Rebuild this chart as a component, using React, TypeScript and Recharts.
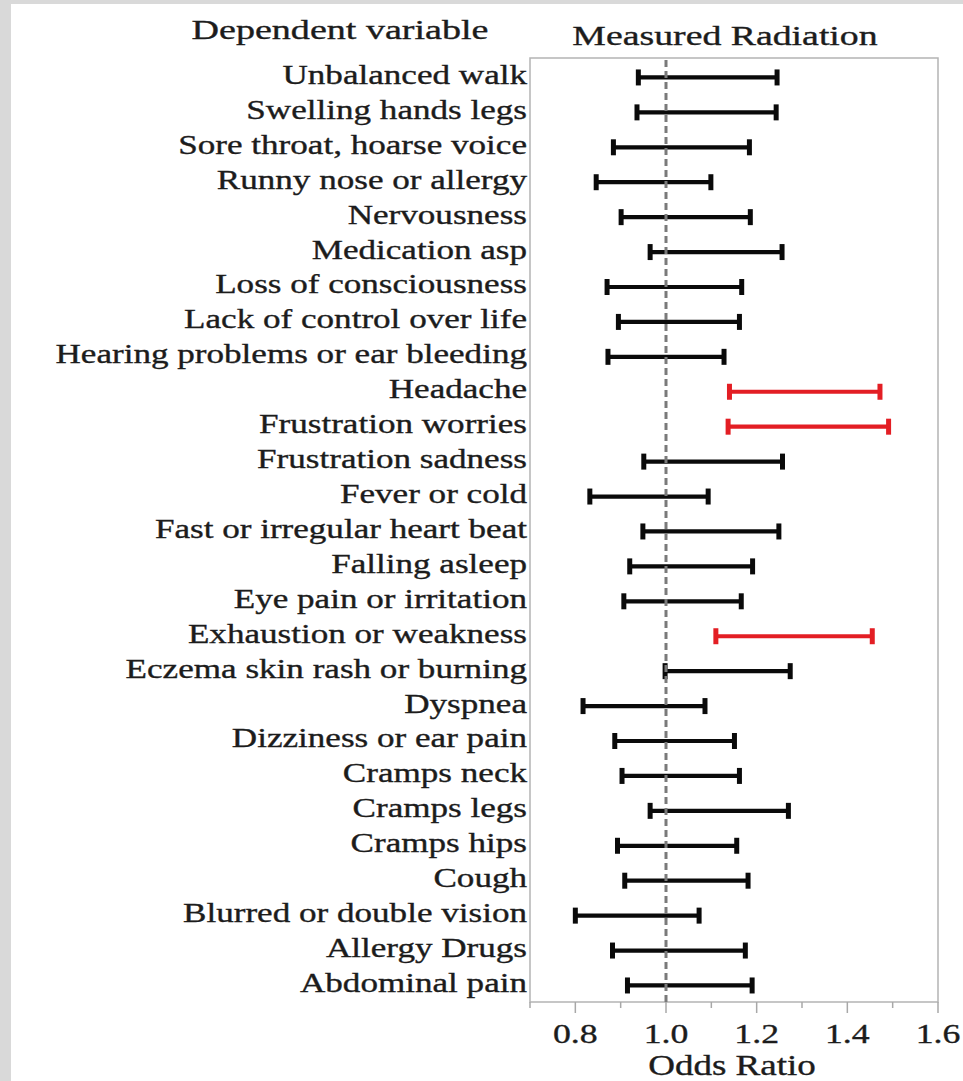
import React from "react";
import {
  ComposedChart,
  Bar,
  XAxis,
  YAxis,
  ReferenceLine,
  ReferenceArea,
} from "recharts";

const CATEGORIES = [
  "Unbalanced walk",
  "Swelling hands legs",
  "Sore throat, hoarse voice",
  "Runny nose or allergy",
  "Nervousness",
  "Medication asp",
  "Loss of consciousness",
  "Lack of control over life",
  "Hearing problems or ear bleeding",
  "Headache",
  "Frustration worries",
  "Frustration sadness",
  "Fever or cold",
  "Fast or irregular heart beat",
  "Falling asleep",
  "Eye pain or irritation",
  "Exhaustion or weakness",
  "Eczema skin rash or burning",
  "Dyspnea",
  "Dizziness or ear pain",
  "Cramps neck",
  "Cramps legs",
  "Cramps hips",
  "Cough",
  "Blurred or double vision",
  "Allergy Drugs",
  "Abdominal pain",
];

const LOWER = [
  0.939, 0.936, 0.884, 0.846, 0.901, 0.965, 0.87, 0.895, 0.872, 1.14, 1.137,
  0.951, 0.832, 0.949, 0.92, 0.907, 1.11, 0.998, 0.817, 0.887, 0.903, 0.965,
  0.893, 0.909, 0.8, 0.882, 0.915,
];

const UPPER = [
  1.245, 1.243, 1.184, 1.099, 1.186, 1.256, 1.167, 1.162, 1.128, 1.472, 1.491,
  1.257, 1.093, 1.249, 1.191, 1.166, 1.455, 1.274, 1.086, 1.151, 1.162, 1.27,
  1.156, 1.181, 1.073, 1.175, 1.19,
];

const SIGNIFICANT = [
  false, false, false, false, false, false, false, false, false, true, true,
  false, false, false, false, false, true, false, false, false, false, false,
  false, false, false, false, false,
];

const X_TICKS = [0.7, 0.8, 0.9, 1.0, 1.1, 1.2, 1.3, 1.4, 1.5, 1.6];
const X_MAJOR = ["0.8", "1.0", "1.2", "1.4", "1.6"];
const Y_TICKS = CATEGORIES.map((_, i) => i);

const data = CATEGORIES.map((name, i) => ({
  idx: i,
  name,
  range: [LOWER[i], UPPER[i]],
  sig: SIGNIFICANT[i],
}));

const SERIF = "'Liberation Serif', 'Times New Roman', serif";
const TEXT = "#1c1c1c";
const RED = "#e31e24";

const StretchText = ({
  x,
  y,
  sx,
  size,
  anchor,
  children,
}: {
  x: number;
  y: number;
  sx: number;
  size: number;
  anchor: "start" | "middle" | "end";
  children: React.ReactNode;
}) => (
  <text
    transform={`translate(${x},${y}) scale(${sx},1)`}
    x={0}
    y={0}
    textAnchor={anchor}
    fontFamily={SERIF}
    fontSize={size}
    fill={TEXT}
    stroke={TEXT}
    strokeWidth={0.35}
  >
    {children}
  </text>
);

const ErrorShape = (props: any) => {
  const { x, y, width, height, payload, index } = props;
  const sig = payload?.sig ?? SIGNIFICANT[index];
  const color = sig ? RED : "#0a0a0a";
  const sw = 4.2;
  const cy = y + height / 2;
  const cap = 8;
  return (
    <g>
      <line x1={x} y1={cy} x2={x + width} y2={cy} stroke={color} strokeWidth={sw} />
      <line x1={x} y1={cy - cap} x2={x} y2={cy + cap} stroke={color} strokeWidth={5} />
      <line
        x1={x + width}
        y1={cy - cap}
        x2={x + width}
        y2={cy + cap}
        stroke={color}
        strokeWidth={5}
      />
    </g>
  );
};

const YTick = (props: any) => {
  const { x, y, payload } = props;
  return (
    <StretchText x={x} y={y + 6} sx={1.3} size={27} anchor="end">
      {CATEGORIES[payload.value]}
    </StretchText>
  );
};

const XTick = (props: any) => {
  const { x, y, payload } = props;
  const label = Number(payload.value).toFixed(1);
  const major = X_MAJOR.includes(label);
  return (
    <g>
      <line
        x1={x}
        y1={y}
        x2={x}
        y2={y + (major ? 11 : 6)}
        stroke="#a8a8a8"
        strokeWidth={1.5}
      />
      {major && (
        <StretchText x={x} y={y + 41} sx={1.3} size={27.5} anchor="middle">
          {label}
        </StretchText>
      )}
    </g>
  );
};

export default function App() {
  return (
    <div
      style={{
        position: "absolute",
        left: 0,
        top: 0,
        width: 963,
        height: 1081,
        background: "#ffffff",
        overflow: "hidden",
      }}
    >
      <div
        style={{ position: "absolute", left: 0, top: 0, width: 963, height: 4, background: "#d9d9d9" }}
      />
      <div
        style={{ position: "absolute", left: 0, top: 0, width: 11, height: 1081, background: "#d9d9d9" }}
      />
      <div style={{ position: "absolute", left: 0, top: 0 }}>
        <ComposedChart
          width={963}
          height={1081}
          layout="vertical"
          data={data}
          margin={{ top: 58, right: 25, bottom: 0, left: 0 }}
        >
          <XAxis
            type="number"
            domain={[0.7, 1.6]}
            ticks={X_TICKS}
            interval={0}
            tick={<XTick />}
            tickLine={false}
            axisLine={false}
            tickSize={0}
            tickMargin={0}
            height={79}
            allowDataOverflow
          />
          <YAxis
            type="number"
            dataKey="idx"
            domain={[-0.57, 26.46]}
            ticks={Y_TICKS}
            interval={0}
            tick={<YTick />}
            tickLine={false}
            axisLine={false}
            tickSize={0}
            tickMargin={3}
            width={530}
            allowDataOverflow
          />
          <ReferenceArea
            x1={0.7}
            x2={1.6}
            y1={-0.57}
            y2={26.46}
            fill="none"
            fillOpacity={0}
            stroke="#b4b4b4"
            strokeWidth={1.5}
          />
          <ReferenceLine x={1} stroke="#7a7a7a" strokeDasharray="7 4" strokeWidth={3} />
          <Bar dataKey="range" barSize={16} shape={<ErrorShape />} isAnimationActive={false} />
        </ComposedChart>
      </div>
      <svg
        width={963}
        height={1081}
        style={{ position: "absolute", left: 0, top: 0, pointerEvents: "none" }}
      >
        <StretchText x={340} y={39} sx={1.41} size={27} anchor="middle">
          Dependent variable
        </StretchText>
        <StretchText x={725} y={45} sx={1.4} size={27} anchor="middle">
          Measured Radiation
        </StretchText>
        <StretchText x={732} y={1075} sx={1.3} size={28.5} anchor="middle">
          Odds Ratio
        </StretchText>
      </svg>
    </div>
  );
}
